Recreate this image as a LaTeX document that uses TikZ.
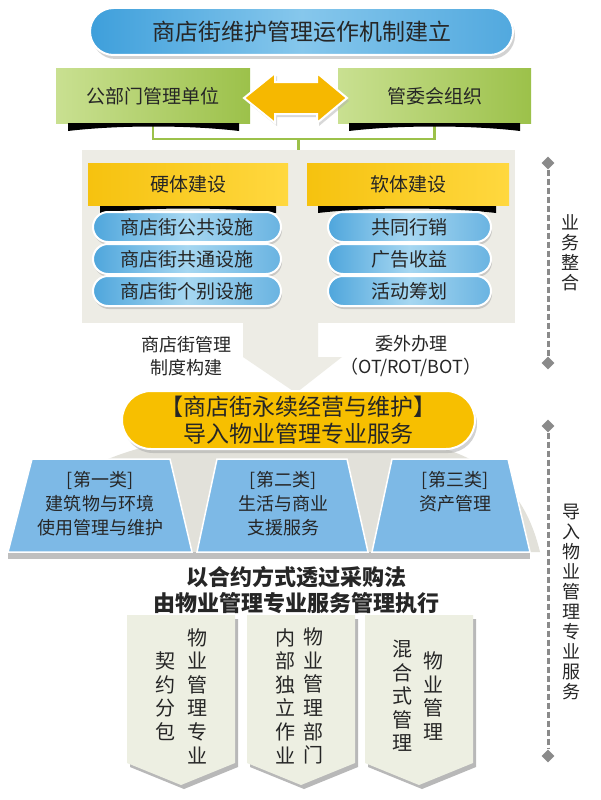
\documentclass[tikz,border=0pt]{standalone}
\usepackage{fontspec}
\setmainfont{Noto Sans CJK SC}
\usepackage{tikz}
\usetikzlibrary{shapes.misc, shapes.geometric, shadows}

\definecolor{skyblue}{HTML}{3E9FDB}
\definecolor{skylight}{HTML}{86C7EC}
\definecolor{leaf}{HTML}{9CC14A}
\definecolor{leafL}{HTML}{C9E091}
\definecolor{amber}{HTML}{F6B800}
\definecolor{panelgray}{HTML}{EDECE5}
\definecolor{sunL}{HTML}{F6C20F}
\definecolor{sunR}{HTML}{FFD83F}
\definecolor{pillblue}{HTML}{4FA6DC}
\definecolor{pilllight}{HTML}{A6D7F1}
\definecolor{gold}{HTML}{F7BF00}
\definecolor{trapblue}{HTML}{7DB9E6}
\definecolor{fangray}{HTML}{E2E1DA}
\definecolor{chevfill}{HTML}{EDEFE2}
\definecolor{dashgray}{HTML}{8A8A8A}

\begin{document}
\begin{tikzpicture}[x=1pt, y=-1pt,
  every node/.style={text=black!85},
  bigpill/.style={rounded rectangle, draw=white, line width=2pt, inner sep=0pt, align=center,
    drop shadow={shadow xshift=2pt, shadow yshift=-4pt, fill=black!35}},
  smallpill/.style={rounded rectangle, draw=white, line width=2pt, inner sep=0pt, minimum height=30pt,
    left color=pillblue, right color=pillblue!85!white, middle color=pilllight,
    drop shadow={shadow xshift=1pt, shadow yshift=-3pt, fill=black!35},
    font=\fontsize{19}{22}\selectfont},
  greenbox/.style={rectangle, minimum width=194pt, minimum height=54pt, inner sep=0pt,
    left color=leafL, right color=leaf, font=\fontsize{19}{22}\selectfont},
  headbox/.style={rectangle, minimum height=42pt, inner sep=0pt,
    left color=sunL, right color=sunR, font=\fontsize{19}{22}\selectfont},
  trapbox/.style={fill=trapblue, draw=white, line width=1.5pt},
  traptext/.style={align=center, inner sep=0pt, font=\fontsize{18}{24}\selectfont},
  chevtext/.style={align=center, inner sep=0pt, font=\fontsize{20}{23.6}\selectfont},
  vlabel/.style={align=center, inner sep=0pt, font=\fontsize{18}{20}\selectfont},
  dashline/.style={draw=dashgray, line width=3pt, dash pattern=on 6pt off 3pt},
  diam/.style={diamond, fill=dashgray, minimum size=13pt, inner sep=0pt},
  greenline/.style={draw=leaf, line width=2.5pt}
]
\fill[white] (0,0) rectangle (600,800);
\useasboundingbox (0,0) rectangle (600,800);

% top title
\node[bigpill, minimum width=423pt, minimum height=47pt,
  left color=skyblue, right color=skyblue!90!white, middle color=skylight,
  font=\fontsize{23}{27}\selectfont] (title) at (301.5,31.5) {商店街维护管理运作机制建立};

% the two partners
\node[greenbox] (pub) at (153,96) {公部门管理单位};
\node[greenbox, minimum width=193pt] (com) at (434.5,96) {管委会组织};
\fill[amber, draw=white, line width=2pt, drop shadow={shadow xshift=2pt, shadow yshift=-3pt, fill=black!30}]
  (244,98) -- (275,73) -- (275,82) -- (317,82) -- (317,73) -- (347,98)
  -- (317,123) -- (317,114) -- (275,114) -- (275,123) -- cycle;

% grey panel and its arrow
\fill[panelgray] (243,323) -- (318,323) -- (318,357) -- (342,357) -- (296,393) -- (243,357) -- cycle;
\node[rectangle, fill=panelgray, minimum width=433pt, minimum height=173pt, inner sep=0pt] (panel) at (298.5,236.5) {};

\draw[greenline] (pub.south) |- ([yshift=11pt]panel.north) -| (com.south);
\draw[greenline] ([yshift=11pt]panel.north) -- (panel.north);

\foreach \xa/\xb/\yy in {68/239/123, 349/520/123, 100/276/205, 318/496/205}
  \fill[black] (\xa,\yy) -- (\xb,\yy) -- (\xb,\yy+8)
    .. controls (\xb-50,\yy+2) and (\xa+50,\yy+2) .. (\xa,\yy+8) -- cycle;

\node[headbox, minimum width=200pt] (hard) at (188,184) {硬体建设};
\node[headbox, minimum width=202pt] (soft) at (408,184) {软体建设};

\node[smallpill, minimum width=188pt] (hp1) at (187,227) {商店街公共设施};
\node[smallpill, minimum width=188pt] (hp2) at (187,259) {商店街共通设施};
\node[smallpill, minimum width=188pt] (hp3) at (187,291) {商店街个别设施};
\node[smallpill, minimum width=163pt] (sp1) at (409.5,227) {共同行销};
\node[smallpill, minimum width=163pt] (sp2) at (409.5,259) {广告收益};
\node[smallpill, minimum width=163pt] (sp3) at (409.5,291) {活动筹划};

\node[align=center, inner sep=0pt, font=\fontsize{18}{23}\selectfont] (rule) at (186,356.5) {商店街管理\\制度构建};
\node[align=center, inner sep=0pt, font=\fontsize{18}{23}\selectfont] (outs) at (411,356.5) {委外办理\\（OT/ROT/BOT）};

% property management
\fill[fangray] (20,552) .. controls (40,470) and (130,432) .. (297,430)
  .. controls (464,432) and (520,470) .. (540,552) -- cycle;
\node[bigpill, minimum width=353pt, minimum height=58pt, fill=gold,
  font=\fontsize{23}{27}\selectfont] (core) at (298.5,420) {【商店街永续经营与维护】\\导入物业管理专业服务};

\fill[black!25] (8,552) rectangle (530,559);
\fill[trapbox] (8,552) -- (192,552) -- (170,459) -- (32,459) -- cycle;
\fill[trapbox] (197,552) -- (368,552) -- (347,459) -- (217,459) -- cycle;
\fill[trapbox] (372,552) -- (530,552) -- (508,459) -- (392,459) -- cycle;
\node[traptext] (t1) at (100,504) {[第一类]\\建筑物与环境\\使用管理与维护};
\node[traptext] (t2) at (283,504) {[第二类]\\生活与商业\\支援服务};
\node[traptext] (t3) at (455,491.5) {[第三类]\\资产管理};

\node[align=center, inner sep=0pt, font=\fontsize{22}{26}\selectfont\bfseries] (proc) at (296,590) {以合约方式透过采购法\\由物业管理专业服务管理执行};

% three ways
\foreach \cx in {181,301,419} {
  \fill[black!28] (\cx-51,619) -- (\cx+57,619) -- (\cx+57,767) -- (\cx+3,789) -- (\cx-51,767) -- cycle;
  \fill[chevfill] (\cx-54,615) -- (\cx+54,615) -- (\cx+54,763) -- (\cx,785) -- (\cx-54,763) -- cycle;
}
\node[chevtext] (c1r) at (197,696) {物\\业\\管\\理\\专\\业};
\node[chevtext] (c1l) at (165,696) {契\\约\\分\\包};
\node[chevtext] (c2r) at (313,696) {物\\业\\管\\理\\部\\门};
\node[chevtext] (c2l) at (285,696) {内\\部\\独\\立\\作\\业};
\node[chevtext] (c3r) at (433,696) {物\\业\\管\\理};
\node[chevtext] (c3l) at (402,696) {混\\合\\式\\管\\理};

% side scales
\node[diam] (d1) at (548,163) {};
\node[diam] (d2) at (548,363) {};
\node[diam] (d3) at (548,426) {};
\node[diam] (d4) at (548,756) {};
\draw[dashline] (d1) -- (d2);
\draw[dashline] (d3) -- (d4);
\node[vlabel] (biz) at (570,253) {业\\务\\整\\合};
\node[vlabel] (imp) at (571,602) {导\\入\\物\\业\\管\\理\\专\\业\\服\\务};
\end{tikzpicture}
\end{document}
